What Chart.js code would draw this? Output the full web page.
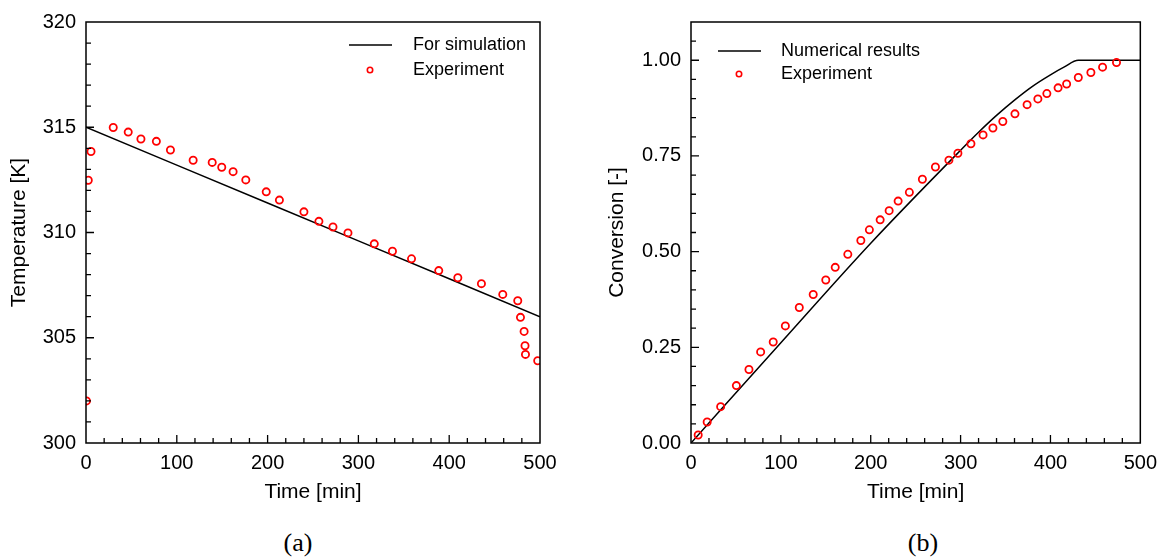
<!DOCTYPE html>
<html>
<head>
<meta charset="utf-8">
<script src="https://cdn.jsdelivr.net/npm/chart.js@4.4.1/dist/chart.umd.min.js"></script>
<style>
  html, body { margin: 0; padding: 0; background: #fff; width: 1165px; height: 558px; overflow: hidden; }
  .panel { position: absolute; top: 0; }
  #pa { left: 0; width: 575px; height: 520px; }
  #pb { left: 580px; width: 585px; height: 520px; }
  .cap { position: absolute; width: 60px; text-align: center; color: #000;
         font-family: "Liberation Serif", "Times New Roman", serif; font-size: 26px; line-height: 26px; }
</style>
</head>
<body>
<div class="panel" id="pa"><canvas id="ca" width="575" height="520"></canvas></div>
<div class="panel" id="pb"><canvas id="cb" width="585" height="520"></canvas></div>
<div class="cap" style="left:268px; top:530px;">(a)</div>
<div class="cap" style="left:893px; top:530px;">(b)</div>

<script>
// ---- Panel (a): temperature ----
const timeTicks = [0, 100, 200, 300, 400, 500];
const tempTicks = [300, 305, 310, 315, 320];

const tempSimTime = [0, 100, 200, 300, 400, 500];
const tempSimK    = [315.0, 313.2, 311.4, 309.6, 307.8, 306.0];

const tempExpTime = [0.5, 2.5, 5.5, 30, 46.5, 60.5, 77.5, 93, 118, 139, 149.5, 162, 176, 198.5, 213, 240,
                     256.5, 272, 288.5, 317.5, 337.5, 358.5, 388.5, 409.5, 435.5, 459, 475.5, 478.5, 482.5, 483.5, 484, 497.5];
const tempExpK    = [302.0, 312.48, 313.85, 314.99, 314.77, 314.44, 314.33, 313.92, 313.43, 313.33, 313.10, 312.89, 312.50, 311.93, 311.54, 310.98,
                     310.53, 310.26, 309.98, 309.46, 309.11, 308.75, 308.19, 307.85, 307.57, 307.06, 306.76, 305.97, 305.30, 304.62, 304.21, 303.91];

// ---- Panel (b): conversion ----
const convTicks = [0, 0.25, 0.5, 0.75, 1.0];

const convSimTime = [0, 100, 200, 300, 320, 340, 360, 380, 400, 415, 431, 500];
const convSimX    = [0, 0.262, 0.522, 0.765, 0.812, 0.856, 0.896, 0.932, 0.962, 0.982, 1.0, 1.0];

const convExpTime = [8, 18, 33, 50.5, 64.5, 77.5, 91.5, 105, 120.5, 136, 150, 160.5, 174.5, 189, 198.5, 210.5, 220.5, 230.5, 243,
                     257.5, 272, 287, 297, 311.5, 325, 336, 347, 360.5, 374, 386, 396, 408.5, 418, 431, 445, 458, 473.5];
const convExpX    = [0.021, 0.055, 0.095, 0.150, 0.192, 0.238, 0.264, 0.306, 0.354, 0.388, 0.426, 0.459, 0.493, 0.529, 0.557, 0.583, 0.607, 0.632, 0.655,
                     0.689, 0.721, 0.739, 0.757, 0.782, 0.805, 0.823, 0.840, 0.860, 0.884, 0.899, 0.913, 0.928, 0.938, 0.955, 0.968, 0.982, 0.994];

const FONT = '"Liberation Sans", Arial, Helvetica, sans-serif';
Chart.defaults.font.family = FONT;
Chart.defaults.color = '#000';

// Closed frame plus inward major/minor tick marks on the bottom and left axes
const frameTicks = {
  id: 'frameTicks',
  afterDatasetsDraw(chart, args, o) {
    const { ctx, chartArea: a, scales } = chart;
    const xs = scales.x, ys = scales.y;
    const isMajor = (v, step) => Math.abs(v / step - Math.round(v / step)) < 1e-6;
    ctx.save();
    ctx.strokeStyle = '#000';
    ctx.lineWidth = 1.3;
    ctx.beginPath();
    const nx = Math.round((xs.max - xs.min) / o.xMinor);
    for (let i = 1; i < nx; i++) {
      const v = xs.min + i * o.xMinor;
      const px = xs.getPixelForValue(v);
      const len = isMajor(v, o.xMajor) ? o.major : o.minor;
      ctx.moveTo(px, a.bottom);
      ctx.lineTo(px, a.bottom - len);
    }
    const ny = Math.round((ys.max - ys.min) / o.yMinor);
    for (let i = 1; i < ny; i++) {
      const v = ys.min + i * o.yMinor;
      const py = ys.getPixelForValue(v);
      const len = isMajor(v, o.yMajor) ? o.major : o.minor;
      ctx.moveTo(a.left, py);
      ctx.lineTo(a.left + len, py);
    }
    ctx.stroke();
    ctx.lineWidth = 1.5;
    ctx.strokeRect(a.left, a.top, a.right - a.left, a.bottom - a.top);
    ctx.restore();
  }
};

// Series key drawn inside the plot area
const seriesKey = {
  id: 'seriesKey',
  afterDraw(chart, args, o) {
    const ctx = chart.ctx;
    const ds = chart.data.datasets;
    ctx.save();
    ctx.font = o.fontSize + 'px ' + FONT;
    ctx.fillStyle = '#000';
    ctx.textAlign = 'left';
    ctx.textBaseline = 'middle';
    ctx.strokeStyle = ds[0].borderColor;
    ctx.lineWidth = ds[0].borderWidth;
    ctx.beginPath();
    ctx.moveTo(o.x0, o.y0);
    ctx.lineTo(o.x1, o.y0);
    ctx.stroke();
    ctx.fillText(ds[0].label, o.tx, o.y0);
    ctx.strokeStyle = ds[1].borderColor;
    ctx.lineWidth = 1.6;
    ctx.beginPath();
    ctx.arc(o.mx, o.y1, o.r, 0, Math.PI * 2);
    ctx.stroke();
    ctx.fillText(ds[1].label, o.tx, o.y1);
    ctx.restore();
  }
};

function pairs(xs, ys) { return xs.map((x, i) => ({ x: x, y: ys[i] })); }

function buildPanel(canvas, p) {
  return new Chart(canvas, {
    type: 'scatter',
    data: {
      datasets: [
        { label: p.lineLabel, data: pairs(p.simX, p.simY), showLine: true,
          borderColor: '#000', borderWidth: 1.5, pointRadius: 0, pointHoverRadius: 0,
          cubicInterpolationMode: p.smooth ? 'monotone' : 'default', tension: 0, clip: 0, order: 1 },
        { label: 'Experiment', data: pairs(p.expX, p.expY), showLine: false,
          pointStyle: 'circle', pointRadius: 3.6, pointHoverRadius: 3.6, pointBorderWidth: 1.8,
          borderColor: '#ff0000', backgroundColor: 'rgba(0,0,0,0)', clip: 0, order: 0 }
      ]
    },
    options: {
      responsive: false,
      animation: false,
      events: [],
      layout: { padding: { left: 0, top: 20, right: p.padRight, bottom: 0 } },
      plugins: {
        legend: { display: false },
        tooltip: { enabled: false },
        frameTicks: { xMajor: 100, xMinor: 20, yMajor: p.yMajor, yMinor: p.yMinor, major: 8, minor: 5 },
        seriesKey: p.key
      },
      scales: {
        x: {
          type: 'linear', min: 0, max: 500,
          afterBuildTicks: s => { s.ticks = timeTicks.map(v => ({ value: v })); },
          afterFit: s => { s.height = 77; },
          grid: { display: false, drawTicks: false },
          border: { display: false },
          ticks: { padding: 8, font: { size: 20 }, color: '#000', maxRotation: 0, callback: v => String(v) },
          title: { display: true, text: 'Time [min]', font: { size: 21 }, color: '#000', padding: { top: 0, bottom: 15 } }
        },
        y: {
          type: 'linear', min: p.yMin, max: p.yMax,
          afterBuildTicks: s => { s.ticks = p.yTicks.map(v => ({ value: v })); },
          afterFit: s => { s.width = p.yWidth; },
          grid: { display: false, drawTicks: false },
          border: { display: false },
          ticks: { padding: 10, font: { size: 20 }, color: '#000', callback: p.yFmt },
          title: { display: true, text: p.yTitle, font: { size: 21 }, color: '#000', padding: { top: p.yTitlePad, bottom: 0 } }
        }
      }
    },
    plugins: [frameTicks, seriesKey]
  });
}

buildPanel(document.getElementById('ca'), {
  lineLabel: 'For simulation', smooth: false,
  simX: tempSimTime, simY: tempSimK, expX: tempExpTime, expY: tempExpK,
  yMin: 300, yMax: 320, yTicks: tempTicks, yMajor: 5, yMinor: 1,
  yFmt: v => String(v), yTitle: 'Temperature [K]', yTitlePad: 7,
  yWidth: 86, padRight: 35,
  key: { fontSize: 18, x0: 349, x1: 392, mx: 370, r: 2.7, tx: 413, y0: 45, y1: 70 }
});

buildPanel(document.getElementById('cb'), {
  lineLabel: 'Numerical results', smooth: true,
  simX: convSimTime, simY: convSimX, expX: convExpTime, expY: convExpX,
  yMin: 0, yMax: 1.1, yTicks: convTicks, yMajor: 0.25, yMinor: 0.05,
  yFmt: v => Number(v).toFixed(2), yTitle: 'Conversion [-]', yTitlePad: 25,
  yWidth: 111, padRight: 21,
  key: { fontSize: 18, x0: 138, x1: 181, mx: 159, r: 2.7, tx: 201, y0: 51, y1: 74 }
});
</script>
</body>
</html>
